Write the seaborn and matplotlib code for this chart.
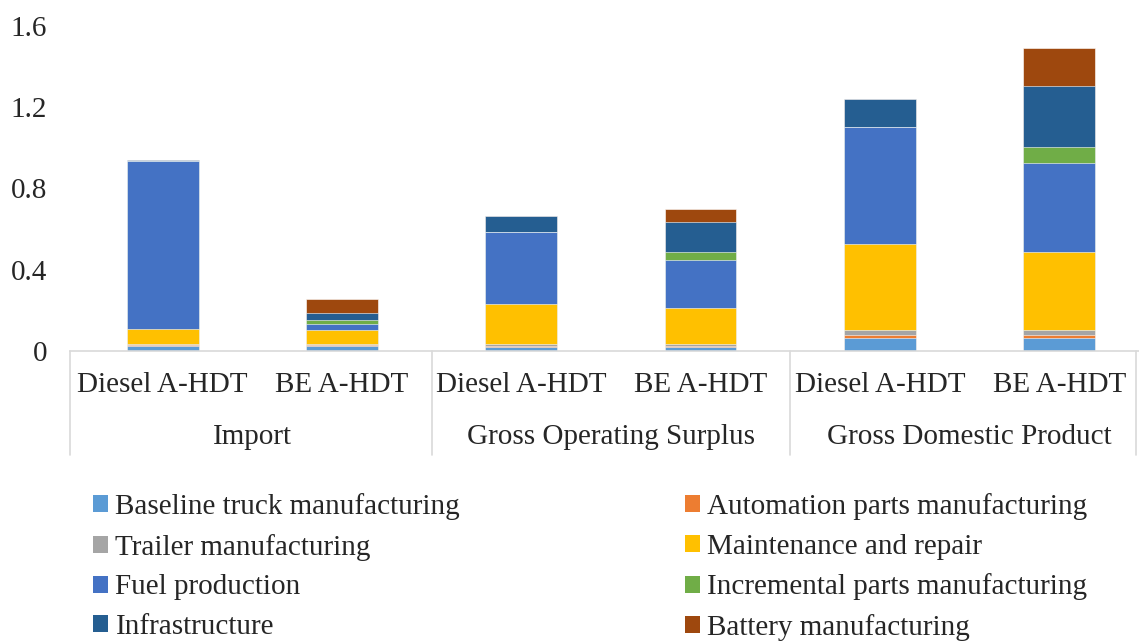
import matplotlib
matplotlib.use("Agg")
import matplotlib.pyplot as plt
import seaborn as sns
import pandas as pd
import numpy as np
from matplotlib.patches import Patch

# bar slots, left to right
groups = ["Import", "Gross Operating Surplus", "Gross Domestic Product"]
trucks = ["Diesel A-HDT", "BE A-HDT"]
slots = ["Import|Diesel", "Import|BE", "GOS|Diesel", "GOS|BE", "GDP|Diesel", "GDP|BE"]

series = ["Baseline truck manufacturing", "Automation parts manufacturing",
          "Trailer manufacturing", "Maintenance and repair", "Fuel production",
          "Incremental parts manufacturing", "Infrastructure", "Battery manufacturing"]

baseline = [0.025, 0.025, 0.021, 0.021, 0.066, 0.066]
automation = [0.003, 0.003, 0.005, 0.005, 0.013, 0.013]
trailer = [0.007, 0.007, 0.007, 0.007, 0.025, 0.025]
maintenance = [0.074, 0.069, 0.200, 0.180, 0.422, 0.384]
fuel = [0.826, 0.030, 0.355, 0.236, 0.578, 0.440]
incremental = [0.0, 0.021, 0.0, 0.038, 0.0, 0.074]
infrastructure = [0.007, 0.033, 0.075, 0.150, 0.136, 0.304]
battery = [0.0, 0.069, 0.0, 0.062, 0.0, 0.184]

colors = ["#5B9BD5", "#ED7D31", "#A5A5A5", "#FFC000", "#4472C4",
          "#70AD47", "#255E91", "#9E480E"]

df = pd.DataFrame({
    "slot": slots,
    series[0]: baseline, series[1]: automation, series[2]: trailer,
    series[3]: maintenance, series[4]: fuel, series[5]: incremental,
    series[6]: infrastructure, series[7]: battery,
})

sns.set_style("white")
plt.rcParams["font.family"] = ["Liberation Serif", "DejaVu Serif"]
FS = 21

fig, ax = plt.subplots(figsize=(11.39, 6.41), dpi=100)
fig.subplots_adjust(left=70 / 1139, right=1.0, bottom=1 - 351 / 641, top=1 - 26 / 641)

# stacked: draw cumulative totals from the top series down
cum = df[series].cumsum(axis=1)
for name, col in reversed(list(zip(series, colors))):
    sns.barplot(x=df["slot"], y=cum[name], order=slots, color=col, width=0.4,
                saturation=1, edgecolor="white", linewidth=0.4, ax=ax)

ax.set_ylim(0, 1.6)
ax.set_xlim(-0.517, 5.445)
ax.set_yticks([0, 0.4, 0.8, 1.2, 1.6])
ax.set_yticklabels(["0", "0.4", "0.8", "1.2", "1.6"])
ax.tick_params(axis="y", length=0, pad=16.5, labelsize=FS)
ax.set_xticks([])
ax.set_xlabel("")
ax.set_ylabel("")
for s in ["top", "right", "left"]:
    ax.spines[s].set_visible(False)
ax.spines["bottom"].set_color("#D9D9D9")
ax.spines["bottom"].set_linewidth(1.2)

# two-level category axis
trans = ax.get_xaxis_transform()
for i, slot in enumerate(slots):
    ax.text(i, -0.105, trucks[i % 2], transform=trans, ha="center", va="center", fontsize=FS)
for g, name in enumerate(groups):
    ax.text(2 * g + 0.5, -0.265, name, transform=trans, ha="center", va="center", fontsize=FS)
for xs in [-0.517, 1.5, 3.5, 5.43]:
    ax.plot([xs, xs], [0, -0.32], transform=trans, color="#D9D9D9", lw=1.2, clip_on=False)

handles = [Patch(facecolor=c, edgecolor="none", label=n) for n, c in zip(series, colors)]
leg_kw = dict(loc="upper left", frameon=False, fontsize=FS, handlelength=0.52,
              handleheight=0.52, handletextpad=0.25, labelspacing=0.47,
              borderpad=0, borderaxespad=0)
for col_idx, x0 in [(0, 93 / 1139), (1, 685 / 1139)]:
    idx = [col_idx, col_idx + 2, col_idx + 4, col_idx + 6]
    fig.legend([handles[i] for i in idx], [series[i] for i in idx],
               bbox_to_anchor=(x0, 1 - 493 / 641), **leg_kw)

fig.savefig("out.png", dpi=100)
